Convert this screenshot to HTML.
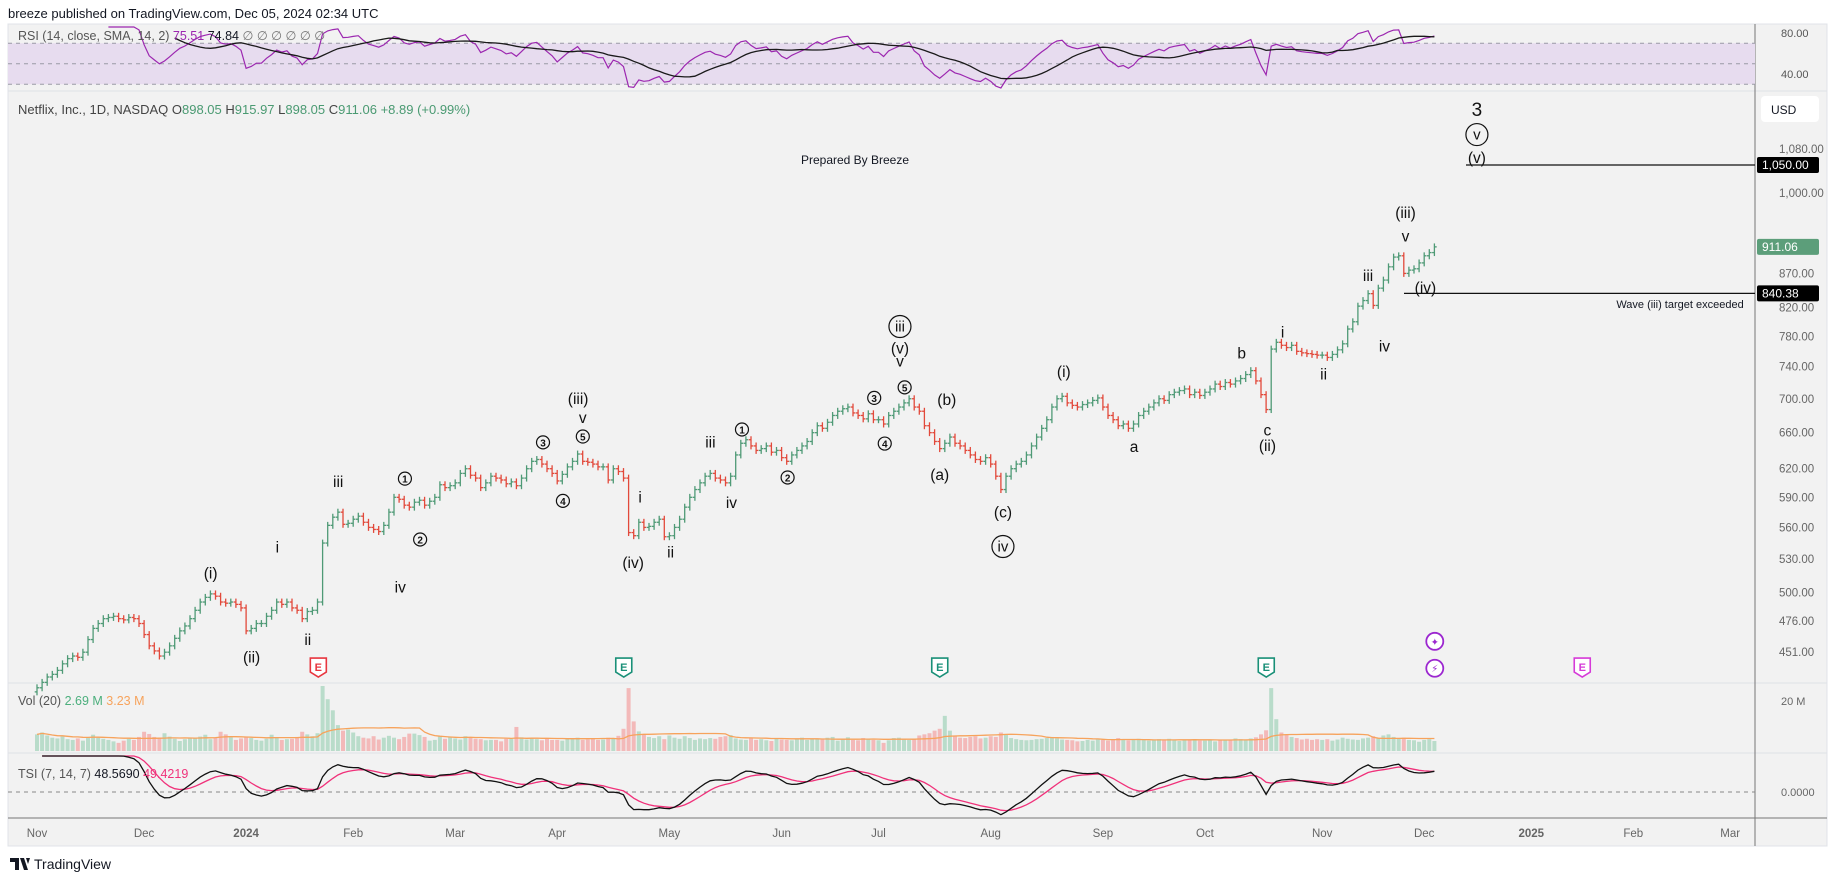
<!DOCTYPE html>
<html><head><meta charset="utf-8"><style>
body{margin:0;background:#fff;width:1835px;height:881px;overflow:hidden;font-family:"Liberation Sans",sans-serif}
svg{display:block}
text{font-family:"Liberation Sans","DejaVu Sans",sans-serif}
</style></head><body>
<svg id="c" width="1835" height="881" xmlns="http://www.w3.org/2000/svg"></svg>
<script>
// ---- data (trading days Nov 1 2023 .. Dec 4 2024) ----
const monthLabels=["Nov","Dec","2024","Feb","Mar","Apr","May","Jun","Jul","Aug","Sep","Oct","Nov","Dec","2025","Feb","Mar"];
const monthStartIdx=[0,21,41,62,82,102,124,146,165,187,209,229,252,272,293,313,332];
const closes=[
424,428,432,434,437,442,446,448,447,451,461,470,474,478,479,480,478,477,479,478,474,
465,456,452,448,451,456,462,468,472,478,485,492,496,499,497,492,491,492,490,487,
468,470,474,474,480,485,492,490,492,487,485,478,484,485,492,545,562,570,575,563,564,
568,571,565,560,558,556,562,575,590,588,582,580,585,587,582,586,590,603,600,602,
605,615,620,613,610,600,605,612,610,608,604,606,602,610,620,628,630,625,620,615,
607,614,622,628,636,628,627,625,622,622,608,620,617,610,555,552,565,560,561,565,568,551,
552,560,568,580,590,598,605,612,615,610,608,605,612,635,648,652,645,640,642,645,638,640,
632,628,635,640,645,650,660,668,665,672,680,685,688,690,683,680,676,682,675,
675,670,680,685,690,695,700,690,685,668,660,650,642,648,655,648,645,640,635,630,628,632,
625,612,598,612,620,625,628,635,645,655,665,675,690,700,703,695,692,690,693,695,698,701,
690,680,675,668,670,665,670,680,685,690,695,700,698,705,708,710,712,705,708,704,
708,712,718,715,720,718,722,725,730,735,722,705,687,763,772,768,765,768,760,758,757,756,755,
755,752,756,762,770,790,800,822,830,840,823,848,860,880,895,897,870,875,877,886,
897,902,911];
const volumes=[
4.5,5.0,4.2,3.6,3.4,3.9,3.2,3.0,3.4,2.8,3.5,4.4,3.6,3.3,3.0,2.6,2.2,2.8,3.3,3.0,3.8,
5.2,4.6,3.8,3.6,4.8,3.9,3.3,2.7,3.2,3.4,3.6,3.9,4.4,3.2,3.6,5.2,4.5,3.7,3.0,3.4,
3.8,3.5,3.0,2.8,3.3,4.4,3.6,3.0,3.2,3.3,3.8,5.2,4.5,4.0,4.8,26,14,11,7,5.5,5.8,
5.0,4.0,3.6,3.4,4.0,3.1,3.6,4.1,3.6,3.2,3.8,4.7,4.7,4.3,3.8,2.8,3.0,3.9,3.3,3.8,
3.4,3.1,4.0,3.6,3.3,3.2,2.9,3.0,3.0,2.6,3.3,3.3,6.5,3.7,3.1,3.4,3.2,2.9,3.5,3.0,
3.0,2.8,3.4,3.2,3.6,3.0,3.1,3.4,3.0,3.1,3.6,3.5,4.1,6.0,17,8,5.3,4.6,3.8,3.5,4.0,3.2,
4.2,3.6,3.3,4.0,3.5,3.0,3.4,3.2,3.5,3.3,3.8,4.0,4.3,3.4,3.1,3.0,3.5,3.0,3.2,2.9,2.7,3.4,
3.1,3.0,2.9,3.3,3.6,3.0,3.2,3.4,3.1,3.6,3.8,2.8,3.3,3.7,3.0,2.9,3.5,3.2,3.0,
2.9,2.2,2.9,3.5,3.6,3.1,3.0,3.3,4.2,4.5,4.8,5.5,6.0,9.5,5.5,4.2,3.6,3.5,3.8,4.0,3.4,3.6,
4.0,3.8,5.0,4.4,3.5,3.2,3.0,2.9,3.0,3.2,3.3,3.5,3.8,3.4,3.1,3.0,2.9,2.6,2.7,3.0,2.8,3.1,
3.0,2.8,3.1,3.5,3.2,2.9,3.0,3.3,3.1,2.8,2.9,3.2,3.0,3.3,2.9,2.7,2.9,3.1,3.2,2.8,
2.8,3.0,2.6,2.9,3.1,3.0,3.4,3.2,3.0,3.4,3.7,4.5,5.6,17,8.6,5.0,4.5,3.8,3.5,3.1,3.3,3.0,3.2,
3.0,3.2,2.8,3.1,3.6,3.3,3.1,3.0,3.4,3.6,4.0,3.5,4.2,4.5,3.8,3.5,3.6,3.0,2.9,2.5,
3.0,3.2,2.7];
const priceTicks=[1080,1000,870,820,780,740,700,660,620,590,560,530,500,476,451];
const rsiTicks=[80,40];

// ---- axes ----
const S=1.1703;
const xI=i=>37+i*5.1;
const yP=p=>148.6+(6.985-Math.log(p))*576.5;
const yR=v=>33+(80-v)*1.025;
const yV=v=>751-v*3.7;
const yT=v=>792-v*0.4;
const svg=document.getElementById('c');
const NS='http://www.w3.org/2000/svg';
function mk(tag,attrs,parent){const e=document.createElementNS(NS,tag);for(const k in attrs)e.setAttribute(k,attrs[k]);(parent||svg).appendChild(e);return e;}
function txt(s,x,y,attrs,parent){const t=mk('text',Object.assign({x:x,y:y},attrs),parent);t.textContent=s;return t;}

// background/frames
let r=mk('rect',{x:8,y:24,width:1819,height:822,fill:'#f2f2f2',stroke:'#e0e3e8'});

[91,683,753,818].forEach(y=>mk('line',{x1:8,x2:1827,y1:y,y2:y,stroke:y==818?'#777':'#dfe1e6','stroke-width':1}));
mk('line',{x1:1755,x2:1755,y1:24,y2:846,stroke:'#777','stroke-width':1});
let hd=txt('breeze published on TradingView.com, Dec 05, 2024 02:34 UTC',8,18,{'font-size':13,fill:'#131722'});


// RSI pane
const rsiG=mk('g',{});
mk('rect',{x:8,y:yR(70),width:1747,height:yR(30)-yR(70),fill:'#e7dcef'},rsiG);
[70,50,30].forEach(v=>mk('line',{x1:8,x2:1755,y1:yR(v),y2:yR(v),stroke:'#9a9aa6','stroke-dasharray':'4,4','stroke-width':1},rsiG));
const rsi=[];let ag=0,al=0;
for(let i=1;i<closes.length;i++){const d=closes[i]-closes[i-1];const g=Math.max(d,0),l=Math.max(-d,0);
 if(i<=14){ag+=g/14;al+=l/14;if(i==14)rsi[i]=100-100/(1+ag/(al||1e-9));}
 else{ag=(ag*13+g)/14;al=(al*13+l)/14;rsi[i]=100-100/(1+ag/(al||1e-9));}}
const rsiMa=[];for(let i=27;i<closes.length;i++){let s=0;for(let k=i-13;k<=i;k++)s+=rsi[k];rsiMa[i]=s/14;}
const clampR=v=>Math.max(27,Math.min(88,yR(v)));
function pathFrom(arr,yf){let d='';arr.forEach((v,i)=>{if(v===undefined)return;d+=(d?'L':'M')+xI(i).toFixed(1)+','+yf(v).toFixed(1);});return d;}
let pr=mk('path',{d:pathFrom(rsi,clampR),fill:'none',stroke:'#9c27b0','stroke-width':1.2},rsiG);

let pm=mk('path',{d:pathFrom(rsiMa,clampR),fill:'none',stroke:'#1a1a1a','stroke-width':1.3},rsiG);

rsiTicks.forEach(v=>txt(v.toFixed(2),1781,yR(v)+4,{'font-size':11,fill:'#555'}));
const rl=txt('',18,40,{'font-size':12.5,fill:'#555'},rsiG);
rl.innerHTML='RSI (14, close, SMA, 14, 2) <tspan fill="#9c27b0">75.51</tspan> <tspan fill="#131722">74.84</tspan> <tspan fill="#777">∅ ∅ ∅ ∅ ∅ ∅</tspan>';

// main pane
const mg=mk('g',{});
const ml=txt('',18,114,{'font-size':13,fill:'#444'},mg);
ml.innerHTML='Netflix, Inc., 1D, NASDAQ  O<tspan fill="#4a9a72">898.05</tspan>  H<tspan fill="#4a9a72">915.97</tspan>  L<tspan fill="#4a9a72">898.05</tspan>  C<tspan fill="#4a9a72">911.06</tspan>  <tspan fill="#4a9a72">+8.89 (+0.99%)</tspan>';
const usd=mk('rect',{x:1761,y:96,width:58,height:26,rx:4,fill:'#fff'});
txt('USD',1771,114,{'font-size':12,fill:'#131722'});
priceTicks.forEach(p=>{const t=txt(p.toLocaleString('en-US',{minimumFractionDigits:2}),1779,yP(p)+4,{'font-size':11.5,fill:'#666'});});
for(let i=0;i<closes.length;i++){
 const c=closes[i],o=i?closes[i-1]:c-3;const up=c>=o;const col=up?'#4f9a76':'#e2493b';
 const hi=Math.max(o,c)*1.006,lo=Math.min(o,c)*0.994;const x=xI(i);
 const g=mk('g',{stroke:col,'stroke-width':1.3},mg);
 
 mk('line',{x1:x,x2:x,y1:yP(hi),y2:yP(lo)},g);
 mk('line',{x1:x-2.3,x2:x,y1:yP(o),y2:yP(o)},g);
 mk('line',{x1:x,x2:x+2.3,y1:yP(c),y2:yP(c)},g);
}
let l1=mk('line',{x1:1466,x2:1755,y1:yP(1050),y2:yP(1050),stroke:'#111','stroke-width':1.3});
let l2=mk('line',{x1:1404,x2:1755,y1:yP(840.38),y2:yP(840.38),stroke:'#111','stroke-width':1.3});
function badge(label,p,bg,name){const y=yP(p);const b=mk('rect',{x:1757,y:y-8,width:62,height:16,rx:2,fill:bg});txt(label,1762,y+4,{'font-size':12,fill:'#fff'});}
badge('1,050.00',1050,'#000','badge-1050');badge('911.06',911.06,'#5c9e7a','last-price-badge');badge('840.38',840.38,'#000','badge-840');
let pb=txt('Prepared By Breeze',855,164,{'font-size':12,fill:'#131722','text-anchor':'middle'});
let wn=txt('Wave (iii) target exceeded',1680,308,{'font-size':11,fill:'#131722','text-anchor':'middle'});
const waves=[["(i)",180,490],["(ii)",215,562],["i",237,468],["ii",263,547],["iii",289,412],["1",346,409,"d"],["iv",342,502],["2",359,461,"d"],
["3",464,378,"d"],["4",481,428,"d"],["(iii)",494,341],["v",498,357],["5",498,373,"d"],["i",547,425],["(iv)",541,481],["ii",573,472],
["iii",607,378],["1",634,367,"d"],["iv",625,430],["2",673,408,"d"],["3",747,340,"d"],["4",756,379,"d"],["5",773,331,"d"],
["iii",769,279,"c"],["(v)",769,298],["v",769,309],["(b)",809,342],["(a)",803,406],["(c)",857,438],["iv",857,467,"c"],
["(i)",909,318],["a",969,382],["b",1061,302],["c",1083,368],["(ii)",1083,381],["i",1096,284],["ii",1131,320],["iii",1169,236],
["iv",1183,296],["(iii)",1201,182],["v",1201,202],["(iv)",1218,246],["3",1262,95,"b"],["v",1262,115,"c"],["(v)",1262,135]];
waves.forEach(w=>{const x=w[1]*S,y=w[2]*S;const g=mk('g',{});
 if(w[3]=='d'){mk('circle',{cx:x,cy:y,r:6.5,fill:'none',stroke:'#111','stroke-width':1.2},g);txt(w[0],x,y+4,{'font-size':10,'font-weight':'bold','text-anchor':'middle',fill:'#111'},g);}
 else if(w[3]=='c'){mk('circle',{cx:x,cy:y,r:11,fill:'none',stroke:'#111','stroke-width':1.2},g);txt(w[0],x,y+5,{'font-size':15,'text-anchor':'middle',fill:'#111'},g);}
 else txt(w[0],x,y+5,{'font-size':w[3]=='b'?19:15.5,'text-anchor':'middle',fill:'#111'},g);});
[[272,'#e8363f'],[533,'#1a9078'],[803,'#1a9078'],[1082,'#1a9078'],[1352,'#d63ad8']].forEach(e=>{const x=e[0]*S,y=570*S;const g=mk('g',{});
 mk('path',{d:`M${x-8},${y-9}H${x+8}V${y+5}L${x},${y+10}L${x-8},${y+5}Z`,fill:'#fff',stroke:e[1],'stroke-width':1.6},g);
 txt('E',x,y+4,{'font-size':11,'font-weight':'bold','text-anchor':'middle',fill:e[1]},g);});
[[548,'✦'],[571,'⚡']].forEach(e=>{const x=1226*S,y=e[0]*S;const g=mk('g',{});
 mk('circle',{cx:x,cy:y,r:8.5,fill:'#fff',stroke:'#9c27d0','stroke-width':1.8},g);txt(e[1],x,y+4,{'font-size':10,'text-anchor':'middle',fill:'#9c27d0'},g);});

// volume pane
const vg=mk('g',{});
for(let i=0;i<volumes.length;i++){const up=i==0||closes[i]>=closes[i-1];const top=Math.max(686,yV(volumes[i]));const b=mk('rect',{x:xI(i)-2,y:top,width:4,height:751-top,fill:up?'#b9dcca':'#f3b9b9'},vg);
 }
const vma=volumes.map((v,i)=>{const s=Math.max(0,i-19);let t=0;for(let k=s;k<=i;k++)t+=volumes[k];return t/(i-s+1);});
let vm=mk('path',{d:pathFrom(vma,yV),fill:'none',stroke:'#f7a35c','stroke-width':1.3},vg);
txt('20 M',1781,705,{'font-size':11,fill:'#666'});
const vl=txt('',18,705,{'font-size':12.5,fill:'#555'},vg);
vl.innerHTML='Vol (20)  <tspan fill="#4caf7d">2.69 M</tspan>  <tspan fill="#f7a35c">3.23 M</tspan>';

// TSI pane
const tg=mk('g',{});
mk('line',{x1:8,x2:1755,y1:yT(0),y2:yT(0),stroke:'#888','stroke-dasharray':'4,4'},tg);
function ema(arr,n){const a=2/(n+1);const o=[];arr.forEach((v,i)=>{o[i]=i==0?v:a*v+(1-a)*o[i-1];});return o;}
const pc=closes.map((c,i)=>i?c-closes[i-1]:0).slice(1);
const ds=ema(ema(pc,14),7),da=ema(ema(pc.map(Math.abs),14),7);
const tsi=[undefined].concat(ds.map((v,i)=>100*v/(da[i]||1)));
const sig=[undefined].concat(ema(tsi.slice(1),7));
const clampT=v=>Math.max(756,Math.min(816,yT(v)));
let ts=mk('path',{d:pathFrom(sig,clampT),fill:'none',stroke:'#f0317a','stroke-width':1.3},tg);
let tl=mk('path',{d:pathFrom(tsi,clampT),fill:'none',stroke:'#111','stroke-width':1.3},tg);
txt('0.0000',1781,yT(0)+4,{'font-size':11,fill:'#666'});
const tlg=txt('',18,778,{'font-size':12.5,fill:'#555'},tg);
tlg.innerHTML='TSI (7, 14, 7)  <tspan fill="#131722">48.5690</tspan>  <tspan fill="#f0317a">49.4219</tspan>';

// time axis
monthLabels.forEach((m,k)=>{const t=txt(m,xI(monthStartIdx[k]),837,{'font-size':11.5,fill:'#666','text-anchor':'middle','font-weight':/^\d/.test(m)?'bold':'normal'});
 });
const fg=mk('g',{});
mk('path',{d:'M10,858H19V870H15V862H10Z M20,858H24L28,870H24Z M26,858H30L28,864Z',fill:'#131722'},fg);
txt('TradingView',34,869,{'font-size':14,fill:'#131722'},fg);
</script>
</body></html>
